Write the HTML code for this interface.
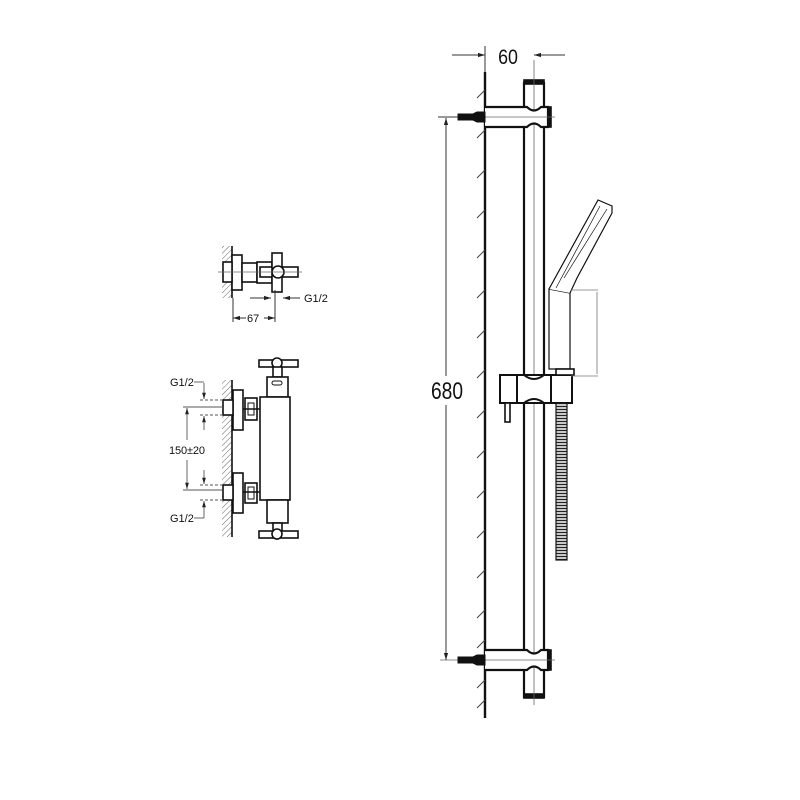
<!DOCTYPE html>
<html><head><meta charset="utf-8"><style>
html,body{margin:0;padding:0;background:#fff;}
svg{display:block;}
text{font-family:"Liberation Sans",sans-serif;}
</style></head><body>
<svg width="800" height="800" viewBox="0 0 800 800" xmlns="http://www.w3.org/2000/svg">
<defs>
<pattern id="hatch" width="4" height="4" patternUnits="userSpaceOnUse" patternTransform="rotate(45)">
<line x1="0" y1="0" x2="0" y2="4" stroke="#666" stroke-width="1"/>
</pattern>
<pattern id="hose" width="11" height="3" patternUnits="userSpaceOnUse"><line x1="0" y1="1.5" x2="11" y2="1.5" stroke="#222" stroke-width="1.5"/></pattern>
<marker id="ar" viewBox="0 0 10 10" refX="10" refY="5" markerWidth="7" markerHeight="7" orient="auto-start-reverse"><path d="M0,2 L10,5 L0,8 z" fill="#222"/></marker>
</defs>
<g fill="none" stroke="#111" stroke-width="1.6">

<!-- ===== Rail ===== -->
<line x1="485" y1="72" x2="485" y2="718" stroke-width="2.4"/>
<g stroke="#444" stroke-width="1">
<path d="M485,90 l-8,8 M485,130 l-8,8 M485,170 l-8,8 M485,210 l-8,8 M485,250 l-8,8 M485,290 l-8,8 M485,330 l-8,8 M485,370 l-8,8 M485,410 l-8,8 M485,450 l-8,8 M485,490 l-8,8 M485,530 l-8,8 M485,570 l-8,8 M485,610 l-8,8 M485,640 l-8,8 M485,680 l-8,8 M485,700 l-8,8"/>
</g>
<line x1="524" y1="82" x2="524" y2="698" stroke-width="2.2"/>
<line x1="544" y1="82" x2="544" y2="698" stroke-width="2.2"/>
<rect x="524" y="80" width="20" height="4" fill="#111"/>
<rect x="524" y="694" width="20" height="4" fill="#111"/>
<line x1="534" y1="60" x2="534" y2="705" stroke="#666" stroke-width="0.8"/>
<path d="M485,107 H527 Q534,114 541,107 H548 V127 H541 Q534,120 527,127 H485" fill="#fff" stroke-width="2.2"/>
<rect x="548" y="107" width="3" height="20" fill="#111"/>
<line x1="470" y1="117" x2="555" y2="117" stroke="#666" stroke-width="0.8"/>
<path d="M458,114 h15 l4,-2 h8 v10 h-8 l-4,-2 h-15 z" fill="#111" stroke-width="1"/>
<path d="M485,650 H527 Q534,657 541,650 H548 V670 H541 Q534,663 527,670 H485" fill="#fff" stroke-width="2.2"/>
<rect x="548" y="650" width="3" height="20" fill="#111"/>
<line x1="440" y1="660" x2="555" y2="660" stroke="#666" stroke-width="0.8"/>
<path d="M458,657 h15 l4,-2 h8 v10 h-8 l-4,-2 h-15 z" fill="#111" stroke-width="1"/>

<g stroke="#333" stroke-width="1">
<line x1="452" y1="55" x2="485" y2="55" marker-end="url(#ar)"/>
<line x1="565" y1="55" x2="534" y2="55" marker-end="url(#ar)"/>
<line x1="485" y1="46" x2="485" y2="72"/>
</g>
<g stroke="#333" stroke-width="1">
<line x1="446" y1="376" x2="446" y2="118" marker-end="url(#ar)"/>
<line x1="446" y1="405" x2="446" y2="660" marker-end="url(#ar)"/>
<line x1="438" y1="117" x2="458" y2="117"/>
</g>

<path d="M500,375 H572 V403 H500 Z" fill="#fff" stroke-width="2"/>
<line x1="517" y1="375" x2="517" y2="403" stroke-width="2"/>
<line x1="551" y1="375" x2="551" y2="403" stroke-width="2"/>
<path d="M524,375 Q534,383 544,375 M524,403 Q534,395 544,403" stroke-width="2"/>
<rect x="505" y="403" width="5" height="19" fill="#fff"/>
<path d="M549,289 L570,293 V369 H549 Z" fill="#fff" stroke-width="1.2"/>
<path d="M549,289 L598,200 L612,206 L612,213 L577,278 L570,293" fill="#fff" stroke-width="1.2"/>
<path d="M556,288 L600,206 M564,278 L607,209" stroke-width="0.7"/>
<rect x="556" y="369" width="18" height="6" fill="#fff" stroke-width="1.6"/>
<g stroke="#777" stroke-width="0.8">
<path d="M571,290 H598 M571,376 H598 M597,292 V374"/>
</g>
<rect x="556" y="403" width="11" height="157" fill="url(#hose)" stroke-width="1.2"/>

<!-- ===== Small valve ===== -->
<rect x="222" y="246" width="10" height="52" fill="url(#hatch)" stroke="none"/>
<line x1="232" y1="246" x2="232" y2="298"/>
<rect x="232" y="255" width="10" height="35" fill="#fff"/>
<rect x="223" y="262" width="9" height="20" fill="#fff"/>
<rect x="242" y="263" width="15" height="19" fill="#fff"/>
<rect x="257" y="262" width="15" height="21" fill="#fff"/>
<rect x="260" y="267" width="38" height="10" fill="#fff"/>
<rect x="272" y="253" width="10" height="39" fill="#fff"/>
<circle cx="278" cy="272" r="6" fill="#fff"/>
<line x1="218" y1="272" x2="302" y2="272" stroke="#666" stroke-width="0.8"/>
<g stroke="#333" stroke-width="1">
<line x1="250" y1="298" x2="271" y2="298" marker-end="url(#ar)"/>
<line x1="300" y1="298" x2="283" y2="298" marker-end="url(#ar)"/>
<line x1="233" y1="298" x2="233" y2="322"/>
<line x1="275" y1="290" x2="275" y2="322"/>
<line x1="246" y1="318" x2="233" y2="318" marker-end="url(#ar)"/>
<line x1="264" y1="318" x2="275" y2="318" marker-end="url(#ar)"/>
</g>
<text x="304" y="302" font-size="11" fill="#111" stroke="none">G1/2</text>
<text x="247" y="322" font-size="11" fill="#111" stroke="none">67</text>

<!-- ===== Thermostat ===== -->
<rect x="222" y="380" width="10" height="157" fill="url(#hatch)" stroke="none"/>
<line x1="232" y1="380" x2="232" y2="537"/>
<line x1="277" y1="362" x2="277" y2="540" stroke="#666" stroke-width="0.8"/>
<rect x="259" y="360" width="39" height="7" fill="#fff"/>
<circle cx="277" cy="363" r="5" fill="#fff"/>
<rect x="273" y="367" width="9" height="10" fill="#fff"/>
<rect x="267" y="377" width="21" height="20" fill="#fff"/>
<rect x="272" y="381" width="10" height="4" rx="2" fill="#fff" stroke-width="1"/>
<rect x="260" y="397" width="30" height="103" fill="#fff"/>
<rect x="267" y="500" width="21" height="23" fill="#fff"/>
<rect x="273" y="523" width="9" height="9" fill="#fff"/>
<rect x="259" y="531" width="39" height="7" fill="#fff"/>
<circle cx="277" cy="534" r="5" fill="#fff"/>
<rect x="233" y="390" width="10" height="40" fill="#fff"/>
<rect x="223" y="400" width="10" height="15" fill="#fff"/>
<rect x="245" y="398" width="12" height="22" fill="#fff"/>
<rect x="248" y="403" width="6" height="12" fill="#fff" stroke-width="1"/>
<line x1="243" y1="409" x2="260" y2="409"/>
<rect x="233" y="473" width="10" height="40" fill="#fff"/>
<rect x="223" y="485" width="10" height="15" fill="#fff"/>
<rect x="245" y="483" width="12" height="20" fill="#fff"/>
<rect x="248" y="487" width="6" height="12" fill="#fff" stroke-width="1"/>
<line x1="243" y1="492" x2="260" y2="492"/>
<g stroke="#555" stroke-width="0.9">
<line x1="183" y1="407" x2="223" y2="407"/>
<line x1="183" y1="490" x2="223" y2="490"/>
<line x1="200" y1="400" x2="223" y2="400" stroke-dasharray="3,2"/>
<line x1="200" y1="415" x2="223" y2="415" stroke-dasharray="3,2"/>
<line x1="200" y1="485" x2="223" y2="485" stroke-dasharray="3,2"/>
<line x1="200" y1="500" x2="223" y2="500" stroke-dasharray="3,2"/>
<line x1="187" y1="440" x2="187" y2="408" marker-end="url(#ar)"/>
<line x1="187" y1="460" x2="187" y2="489" marker-end="url(#ar)"/>
<line x1="204" y1="383" x2="204" y2="399" marker-end="url(#ar)"/>
<line x1="204" y1="430" x2="204" y2="416" marker-end="url(#ar)"/>
<line x1="204" y1="470" x2="204" y2="484" marker-end="url(#ar)"/>
<line x1="204" y1="518" x2="204" y2="501" marker-end="url(#ar)"/>
<line x1="194" y1="382" x2="204" y2="382"/>
<line x1="194" y1="518" x2="204" y2="518"/>
</g>
<text x="170" y="386" font-size="11" fill="#111" stroke="none">G1/2</text>
<text x="170" y="522" font-size="11" fill="#111" stroke="none">G1/2</text>
<text x="169" y="454" font-size="11" fill="#111" stroke="none" textLength="36">150±20</text>
</g>
<text x="508" y="64" font-size="21" fill="#111" text-anchor="middle" transform="translate(508 0) scale(0.85 1) translate(-508 0)">60</text>
<text x="447" y="399" font-size="24" fill="#111" text-anchor="middle" transform="translate(447 0) scale(0.8 1) translate(-447 0)">680</text>
</svg>
</body></html>
